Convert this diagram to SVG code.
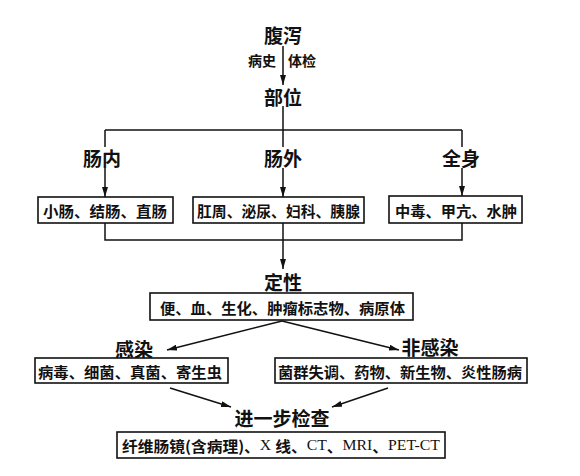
<svg xmlns="http://www.w3.org/2000/svg" width="580" height="476" viewBox="0 0 580 476">
<style>
.h{font-family:"Noto Sans CJK SC","Noto Sans",sans-serif;font-size:19px;font-weight:bold;fill:#111;text-anchor:middle;dominant-baseline:central}
.s{font-family:"Noto Sans CJK SC","Noto Sans",sans-serif;font-size:14px;font-weight:bold;fill:#111;text-anchor:middle;dominant-baseline:central}
.t{font-family:"Noto Sans CJK SC","Noto Sans",sans-serif;font-size:15px;font-weight:bold;fill:#111;dominant-baseline:central}
.m{font-family:"Liberation Serif","Noto Sans CJK SC",serif;font-size:15px;fill:#111;dominant-baseline:central}
.b{fill:#fff;stroke:#111;stroke-width:1.6}
.c line,.c polyline{stroke:#111;stroke-width:1.5;fill:none}
.a{marker-end:url(#ah)}
</style>
<defs>
<marker id="ah" viewBox="0 0 10 6" refX="10" refY="3" markerWidth="10" markerHeight="6" markerUnits="userSpaceOnUse" orient="auto">
<path d="M0,0 L10,3 L0,6 Z" fill="#111"/>
</marker>
</defs>
<rect width="580" height="476" fill="#fff"/>
<g class="c" id="connectors">
<line class="a" x1="283" y1="46" x2="283" y2="85"/>
<line x1="283" y1="106" x2="283" y2="130"/>
<line x1="105" y1="130" x2="462" y2="130"/>
<line x1="105" y1="130" x2="105" y2="147"/>
<line class="a" x1="105" y1="168" x2="105" y2="197"/>
<line x1="283" y1="130" x2="283" y2="147"/>
<line class="a" x1="283" y1="168" x2="283" y2="197"/>
<line x1="462" y1="130" x2="462" y2="147"/>
<line class="a" x1="462" y1="168" x2="462" y2="196"/>
<polyline points="105,223 105,240 462,240 462,223"/>
<line class="a" x1="283" y1="223" x2="283" y2="269"/>
<line class="a" x1="282" y1="321" x2="167" y2="350"/>
<line class="a" x1="282" y1="321" x2="399" y2="350"/>
<line class="a" x1="170" y1="388" x2="231" y2="407"/>
<line class="a" x1="388" y1="388" x2="332" y2="407"/>
</g>
<g id="n-fuxie"><text class="h" x="283" y="34">腹泻</text></g>
<g id="l-bingshi"><text class="s" x="262" y="60">病史</text><text class="s" x="302" y="60">体检</text></g>
<g id="n-buwei"><text class="h" x="283" y="96">部位</text></g>
<g id="n-changnei"><text class="h" x="102" y="157">肠内</text></g>
<g id="n-changwai"><text class="h" x="283" y="157">肠外</text></g>
<g id="n-quanshen"><text class="h" x="461" y="157">全身</text></g>
<g id="b-changnei"><rect class="b" x="38" y="197" width="135" height="26"/><text class="t" x="43" y="210" textLength="124" lengthAdjust="spacingAndGlyphs">小肠、结肠、直肠</text></g>
<g id="b-changwai"><rect class="b" x="193" y="197" width="171" height="26"/><text class="t" x="197" y="210" textLength="163" lengthAdjust="spacingAndGlyphs">肛周、泌尿、妇科、胰腺</text></g>
<g id="b-quanshen"><rect class="b" x="389" y="196" width="133" height="27"/><text class="t" x="395" y="210" textLength="122" lengthAdjust="spacingAndGlyphs">中毒、甲亢、水肿</text></g>
<g id="n-dingxing"><text class="h" x="283" y="281">定性</text></g>
<g id="b-dingxing"><rect class="b" x="150" y="293" width="263" height="27"/><text class="t" x="160" y="307" textLength="245" lengthAdjust="spacingAndGlyphs">便、血、生化、肿瘤标志物、病原体</text></g>
<g id="n-ganran"><text class="h" x="134" y="348">感染</text></g>
<g id="n-feiganran"><text class="h" x="430" y="346">非感染</text></g>
<g id="b-ganran"><rect class="b" x="35" y="358" width="193" height="25"/><text class="t" x="38" y="371" textLength="184" lengthAdjust="spacingAndGlyphs">病毒、细菌、真菌、寄生虫</text></g>
<g id="b-feiganran"><rect class="b" x="275" y="358" width="252" height="25"/><text class="t" x="278" y="371" textLength="244" lengthAdjust="spacingAndGlyphs">菌群失调、药物、新生物、炎性肠病</text></g>
<g id="n-jinyibu"><text class="h" x="282" y="417">进一步检查</text></g>
<g id="b-jinyibu"><rect class="b" x="117" y="432" width="328" height="26"/><text class="m" x="122" y="445" textLength="318" lengthAdjust="spacingAndGlyphs"><tspan font-family="Noto Sans CJK SC" font-weight="bold">纤维肠镜(含病理)、</tspan>X <tspan font-family="Noto Sans CJK SC" font-weight="bold">线、</tspan>CT<tspan font-family="Noto Sans CJK SC" font-weight="bold">、</tspan>MRI<tspan font-family="Noto Sans CJK SC" font-weight="bold">、</tspan>PET-CT</text></g>
</svg>
